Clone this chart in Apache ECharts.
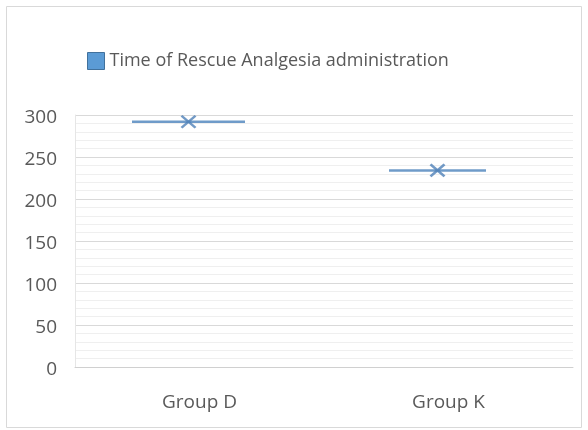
<!DOCTYPE html>
<html>
<head>
<meta charset="utf-8">
<script src="https://cdn.jsdelivr.net/npm/echarts@6/dist/echarts.min.js"></script>
<style>
  html, body { margin: 0; padding: 0; background: #fff; }
  #chart { width: 588px; height: 430px; }
</style>
</head>
<body>
<div id="chart"></div>
<script>
const groups = ['Group D', 'Group K'];
const rescueTimes = [292, 234];
const lineWidths = [113, 97];
const seriesName = 'Time of Rescue Analgesia administration';

const xPath = 'path://M0,0 L10,10 M10,0 L0,10';

const getOption = () => {
  return {
    animation: false,
    textStyle: { fontFamily: 'Open Sans' },
    graphic: [{
      type: 'rect',
      shape: { x: 6.5, y: 6.5, width: 575, height: 421 },
      style: { fill: 'none', stroke: '#d9d9d9', lineWidth: 1 }
    }],
    legend: {
      top: 47,
      left: 82,
      itemWidth: 17,
      itemHeight: 17,
      itemGap: 10,
      data: [{ name: seriesName, icon: 'rect', itemStyle: { color: '#5b9bd5', borderColor: '#41719c', borderWidth: 1 } }],
      textStyle: { fontSize: 18, color: '#595959', fontFamily: 'Open Sans' }
    },
    grid: { left: 75, right: 15, top: 115, bottom: 63 },
    xAxis: {
      type: 'category',
      data: groups,
      axisTick: { show: false },
      axisLine: { lineStyle: { color: '#d0d0d0' } },
      axisLabel: { fontSize: 19, color: '#595959', margin: 26 }
    },
    yAxis: {
      type: 'value',
      min: 0,
      max: 300,
      interval: 50,
      axisLine: { show: true, lineStyle: { color: '#e6e6e6' } },
      axisLabel: {
        margin: 18,
        formatter: '{v|{value}}',
        rich: { v: { fontSize: 19, color: '#595959', fontFamily: 'Open Sans', padding: [6, 0, 0, 0] } }
      },
      splitLine: { lineStyle: { color: '#d9d9d9', width: 1 } },
      minorTick: { show: false, splitNumber: 5 },
      minorSplitLine: { show: true, lineStyle: { color: '#efefef', width: 1 } }
    },
    series: [
      {
        name: seriesName,
        type: 'scatter',
        symbol: 'rect',
        symbolOffset: [-11, 0],
        itemStyle: { color: '#6f9bc9', opacity: 1 },
        data: rescueTimes.map((v, i) => ({ value: v, symbolSize: [lineWidths[i], 2.5] })),
        z: 3
      },
      {
        name: seriesName,
        type: 'scatter',
        symbol: xPath,
        symbolSize: [14, 12],
        symbolOffset: [-11, 0],
        itemStyle: { color: 'none', borderColor: '#4f81b8', borderWidth: 2.5 },
        data: rescueTimes,
        z: 4
      }
    ]
  };
};

const initCharts = () => {
  const chart = echarts.init(document.getElementById('chart'));
  chart.setOption(getOption());
};

window.addEventListener('load', () => {
  initCharts();
});
</script>
</body>
</html>
